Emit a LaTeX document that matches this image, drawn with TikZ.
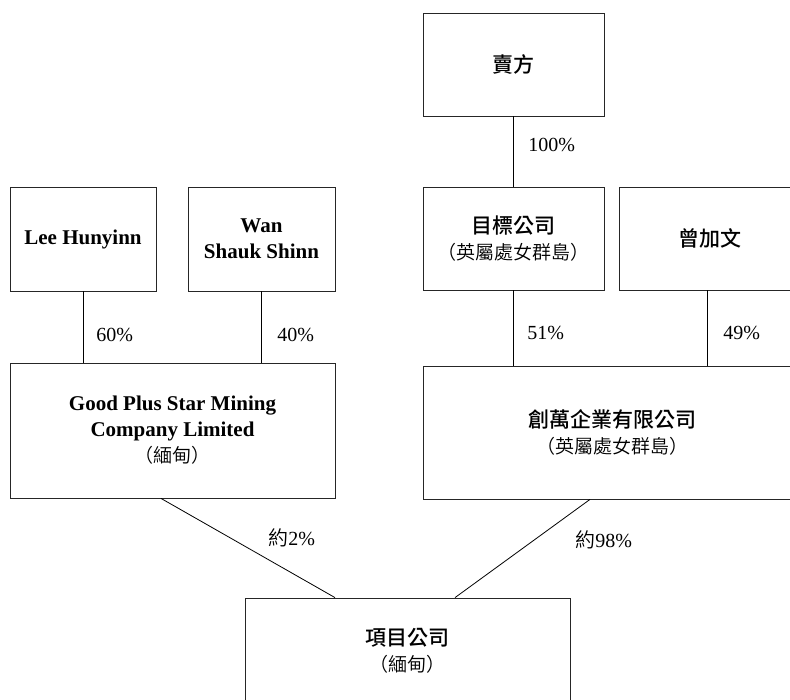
\documentclass[tikz,border=0pt]{standalone}
\usepackage{fontspec}
\setmainfont{Liberation Serif}
\newfontfamily\cjkfont{Noto Sans CJK TC Medium}
\newfontfamily\cjklight{Noto Sans CJK TC DemiLight}
\usepackage{tikz}
\usetikzlibrary{arrows,shapes}
\usepackage{xcolor}
\newcommand\cjk{\cjkfont\mdseries}
\newcommand\subfont{\cjklight\mdseries\fontsize{19}{24}\selectfont}

\begin{document}
\begin{tikzpicture}[x=1pt,y=-1pt,line width=.8pt]
  \tikzstyle{box}=[rectangle,draw=black!85,fill=white,inner sep=0pt,align=center,font=\bfseries\fontsize{21}{26}\selectfont]
  \tikzstyle{pct}=[inner sep=0pt,font=\fontsize{20}{24}\selectfont]
  \useasboundingbox (0,0) rectangle (790,699);
  % boxes
  \node(seller) at (513.5,64.5)[box,minimum width=181pt,minimum height=103pt]{{\cjk 賣方}};
  \node(target) at (513.5,238.5)[box,minimum width=181pt,minimum height=103pt]{{\cjk 目標公司}\\{\subfont （英屬處女群島）}};
  \node(zeng) at (710,238.5)[box,minimum width=182pt,minimum height=103pt]{{\cjk 曾加文}};
  \node(lee) at (83,239)[box,minimum width=146pt,minimum height=104pt]{Lee Hunyinn};
  \node(wan) at (261.5,239)[box,minimum width=147pt,minimum height=104pt]{Wan\\Shauk Shinn};
  \node(gp) at (172.5,430.5)[box,minimum width=325pt,minimum height=135pt]{Good Plus Star Mining\\Company Limited\\{\subfont （緬甸）}};
  \node(cw) at (612,432.5)[box,minimum width=378pt,minimum height=133pt]{{\cjk 創萬企業有限公司}\\{\subfont （英屬處女群島）}};
  \node(proj) at (407.5,651)[box,minimum width=325pt,minimum height=106pt]{{\cjk 項目公司}\\{\subfont （緬甸）}};
  % links
  \draw(seller.south)--(seller.south |- target.north);
  \draw(target.south)--(target.south |- cw.north);
  \draw([xshift=-3pt]zeng.south)--([xshift=-3pt]zeng.south |- cw.north);
  \draw(lee.south)--(lee.south |- gp.north);
  \draw(wan.south)--(wan.south |- gp.north);
  \coordinate(gp-out) at ([xshift=-11.5pt]gp.south);
  \coordinate(cw-out) at ([xshift=-22pt]cw.south);
  \coordinate(proj-l) at ([xshift=-72.5pt]proj.north);
  \coordinate(proj-r) at ([xshift=47.5pt]proj.north);
  \draw(gp-out)--(proj-l);
  \draw(cw-out)--(proj-r);
  % labels
  \node(p100) at (528,145)[pct,anchor=west]{100\%};
  \node(p60) at (96,335)[pct,anchor=west]{60\%};
  \node(p40) at (277,335)[pct,anchor=west]{40\%};
  \node(p51) at (527,333)[pct,anchor=west]{51\%};
  \node(p49) at (723,333)[pct,anchor=west]{49\%};
  \node(p2) at (268,538)[pct,anchor=west]{{\cjklight 約}2\%};
  \node(p98) at (575,540)[pct,anchor=west]{{\cjklight 約}98\%};
\end{tikzpicture}
\end{document}
